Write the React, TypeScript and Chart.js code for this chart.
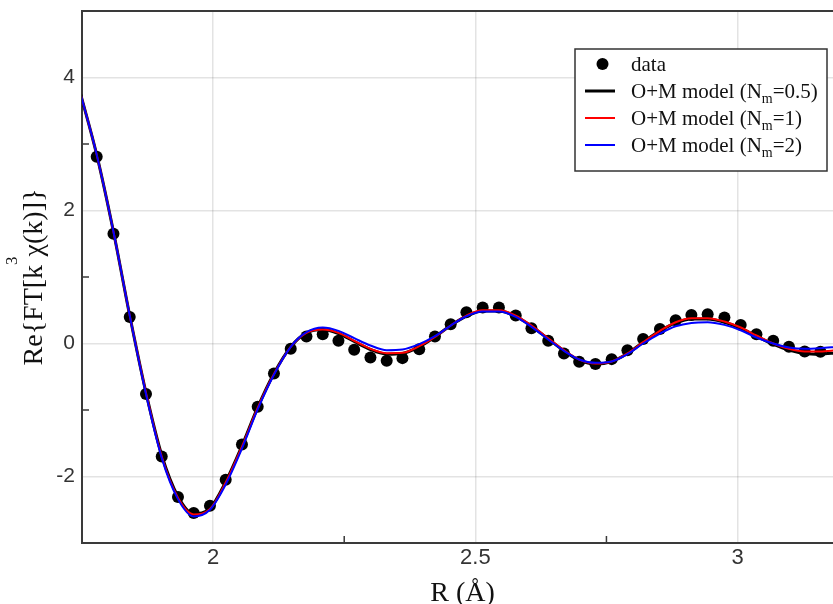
import React, { useEffect, useRef } from "react";
import { Chart, registerables } from "chart.js";

Chart.register(...registerables);

// ---- data ----
const R_VALUES = [1.747, 1.778, 1.810, 1.841, 1.872, 1.902, 1.933, 1.963, 1.994, 2.024, 2.055, 2.085, 2.116, 2.148, 2.178, 2.209, 2.239, 2.269, 2.300, 2.331, 2.361, 2.393, 2.423, 2.453, 2.483, 2.514, 2.545, 2.577, 2.607, 2.639, 2.669, 2.698, 2.729, 2.760, 2.790, 2.820, 2.852, 2.882, 2.912, 2.943, 2.975, 3.006, 3.036, 3.068, 3.098, 3.128, 3.158, 3.189];

const DATA_VALUES = [null, 2.81, 1.65, 0.40, -0.76, -1.70, -2.31, -2.55, -2.44, -2.05, -1.52, -0.95, -0.45, -0.08, 0.105, 0.14, 0.04, -0.095, -0.21, -0.26, -0.22, -0.085, 0.105, 0.29, 0.47, 0.54, 0.54, 0.42, 0.23, 0.04, -0.15, -0.275, -0.31, -0.235, -0.10, 0.066, 0.217, 0.35, 0.43, 0.44, 0.39, 0.28, 0.14, 0.04, -0.05, -0.12, -0.125, null];

const MODEL_NM05 = [3.76, 2.84, 1.68, 0.42, -0.74, -1.68, -2.30, -2.56, -2.48, -2.08, -1.54, -0.96, -0.45, -0.05, 0.16, 0.21, 0.15, 0.03, -0.09, -0.16, -0.15, -0.05, 0.10, 0.27, 0.41, 0.49, 0.49, 0.41, 0.26, 0.07, -0.11, -0.25, -0.31, -0.27, -0.15, 0.02, 0.19, 0.31, 0.37, 0.37, 0.32, 0.23, 0.11, -0.01, -0.10, -0.15, -0.16, -0.14];

const MODEL_NM1 = [3.76, 2.84, 1.68, 0.42, -0.74, -1.70, -2.32, -2.57, -2.49, -2.09, -1.55, -0.97, -0.46, -0.05, 0.16, 0.21, 0.16, 0.04, -0.08, -0.145, -0.14, -0.04, 0.10, 0.27, 0.42, 0.50, 0.50, 0.42, 0.27, 0.08, -0.10, -0.24, -0.30, -0.27, -0.15, 0.02, 0.19, 0.32, 0.38, 0.38, 0.33, 0.24, 0.12, 0.00, -0.08, -0.12, -0.12, -0.10];

const MODEL_NM2 = [3.76, 2.84, 1.68, 0.42, -0.76, -1.72, -2.34, -2.60, -2.50, -2.12, -1.58, -0.99, -0.47, -0.05, 0.17, 0.24, 0.19, 0.08, -0.03, -0.10, -0.09, -0.01, 0.11, 0.27, 0.41, 0.48, 0.48, 0.40, 0.25, 0.06, -0.11, -0.24, -0.29, -0.27, -0.16, 0.00, 0.15, 0.26, 0.31, 0.32, 0.28, 0.20, 0.09, 0.00, -0.06, -0.08, -0.07, -0.05];

const SERIES_LABELS = ["data", "O+M model (N_m=0.5)", "O+M model (N_m=1)", "O+M model (N_m=2)"];
const SERIES_COLORS = ["#000000", "#000000", "#ff0000", "#0000ff"];

const X_MAJOR_TICKS = [2, 2.5, 3];
const X_MINOR_TICKS = [2.25, 2.75];
const Y_MAJOR_TICKS = [-2, 0, 2, 4];
const Y_MINOR_TICKS = [-1, 1, 3];

const X_TITLE = "R (Å)";
const Y_TITLE_PARTS = ["Re{FT[k", "3", "χ(k)]}"];

const AXIS_COLOR = "#3a3a3a";
const SERIF = "'Liberation Serif', 'Times New Roman', serif";
const SANS = "'Liberation Sans', Arial, sans-serif";

function toPoints(values: (number | null)[]) {
  const pts: { x: number; y: number }[] = [];
  values.forEach((v, i) => {
    if (v !== null) pts.push({ x: R_VALUES[i], y: v });
  });
  return pts;
}

function drawSubText(ctx: CanvasRenderingContext2D, label: string, x: number, y: number, size: number) {
  // "_m" => subscript m
  const idx = label.indexOf("_");
  ctx.textBaseline = "alphabetic";
  ctx.textAlign = "left";
  if (idx < 0) {
    ctx.font = `${size}px ${SERIF}`;
    ctx.fillText(label, x, y);
    return;
  }
  const before = label.slice(0, idx);
  const sub = label.slice(idx + 1, idx + 2);
  const after = label.slice(idx + 2);
  ctx.font = `${size}px ${SERIF}`;
  ctx.fillText(before, x, y);
  let cx = x + ctx.measureText(before).width;
  ctx.font = `${Math.round(size * 0.68)}px ${SERIF}`;
  ctx.fillText(sub, cx, y + 5);
  cx += ctx.measureText(sub).width;
  ctx.font = `${size}px ${SERIF}`;
  ctx.fillText(after, cx, y);
}

const decorPlugin = {
  id: "decor",
  afterDraw(chart: any) {
    const { ctx, chartArea, scales } = chart;
    const { left, top, right, bottom } = chartArea;
    const xs = scales.x;
    const ys = scales.y;
    ctx.save();

    // top frame line
    ctx.strokeStyle = AXIS_COLOR;
    ctx.lineWidth = 2;
    ctx.beginPath();
    ctx.moveTo(left, top);
    ctx.lineTo(right, top);
    ctx.stroke();

    // minor inward ticks
    ctx.lineWidth = 1.5;
    ctx.beginPath();
    X_MINOR_TICKS.forEach((v) => {
      const px = xs.getPixelForValue(v);
      ctx.moveTo(px, bottom);
      ctx.lineTo(px, bottom - 7);
    });
    Y_MINOR_TICKS.forEach((v) => {
      const py = ys.getPixelForValue(v);
      ctx.moveTo(left, py);
      ctx.lineTo(left + 7, py);
    });
    ctx.stroke();

    // x title
    ctx.fillStyle = "#111";
    ctx.font = `28px ${SERIF}`;
    ctx.textAlign = "center";
    ctx.textBaseline = "alphabetic";
    ctx.fillText(X_TITLE, (left + right) / 2 + 5, 601);

    // y title (rotated, with superscript)
    ctx.save();
    const cy = (top + bottom) / 2;
    ctx.translate(42, cy);
    ctx.rotate(-Math.PI / 2);
    const mainFont = `28px ${SERIF}`;
    const supFont = `17px ${SERIF}`;
    ctx.font = mainFont;
    const w0 = ctx.measureText(Y_TITLE_PARTS[0]).width;
    const w2 = ctx.measureText(Y_TITLE_PARTS[2]).width;
    ctx.font = supFont;
    const w1 = ctx.measureText(Y_TITLE_PARTS[1]).width;
    const total = w0 + w1 + w2;
    let sx = -total / 2;
    ctx.textAlign = "left";
    ctx.font = mainFont;
    ctx.fillText(Y_TITLE_PARTS[0], sx, 0);
    sx += w0;
    ctx.font = supFont;
    ctx.fillText(Y_TITLE_PARTS[1], sx, -25);
    sx += w1;
    ctx.font = mainFont;
    ctx.fillText(Y_TITLE_PARTS[2], sx, 0);
    ctx.restore();

    // legend
    const bx = 575, by = 49, bw = 252, bh = 122;
    ctx.fillStyle = "#ffffff";
    ctx.fillRect(bx, by, bw, bh);
    ctx.strokeStyle = "#333";
    ctx.lineWidth = 1.5;
    ctx.strokeRect(bx, by, bw, bh);
    const rowY = [64, 91, 118, 145];
    SERIES_LABELS.forEach((lab, i) => {
      const ry = rowY[i];
      if (i === 0) {
        ctx.fillStyle = SERIES_COLORS[0];
        ctx.beginPath();
        ctx.arc(602.5, ry, 6, 0, Math.PI * 2);
        ctx.fill();
      } else {
        ctx.strokeStyle = SERIES_COLORS[i];
        ctx.lineWidth = i === 1 ? 3 : 2;
        ctx.beginPath();
        ctx.moveTo(585, ry);
        ctx.lineTo(615, ry);
        ctx.stroke();
      }
      ctx.fillStyle = "#111";
      drawSubText(ctx, lab, 631, ry + 6.5, 21);
    });

    ctx.restore();
  },
};

function zeroPadding(scale: any) {
  scale.paddingTop = 0;
  scale.paddingBottom = 0;
  scale.paddingLeft = 0;
  scale.paddingRight = 0;
}

export default function App() {
  const canvasRef = useRef<HTMLCanvasElement | null>(null);

  useEffect(() => {
    const canvas = canvasRef.current;
    if (!canvas) return;
    const lineDs = (label: string, values: number[], color: string, width: number, order: number) => ({
      label,
      data: toPoints(values),
      borderColor: color,
      backgroundColor: color,
      borderWidth: width,
      pointRadius: 0,
      showLine: true,
      cubicInterpolationMode: "monotone" as const,
      fill: false,
      order,
    });
    const chart = new Chart(canvas, {
      type: "line",
      data: {
        datasets: [
          {
            label: SERIES_LABELS[0],
            data: toPoints(DATA_VALUES),
            showLine: false,
            pointRadius: 6,
            pointBackgroundColor: "#000",
            pointBorderColor: "#000",
            pointBorderWidth: 0,
            borderColor: "#000",
            backgroundColor: "#000",
            order: 4,
          },
          lineDs(SERIES_LABELS[1], MODEL_NM05, SERIES_COLORS[1], 3, 3),
          lineDs(SERIES_LABELS[2], MODEL_NM1, SERIES_COLORS[2], 2, 2),
          lineDs(SERIES_LABELS[3], MODEL_NM2, SERIES_COLORS[3], 2, 1),
        ],
      },
      options: {
        animation: false,
        responsive: false,
        devicePixelRatio: 1,
        layout: { autoPadding: false, padding: { top: 11, right: 0, bottom: 0, left: 0 } },
        plugins: {
          legend: { display: false },
          tooltip: { enabled: false },
          title: { display: false },
        },
        scales: {
          x: {
            type: "linear",
            min: 1.75,
            max: 3.182,
            afterBuildTicks: (scale: any) => {
              scale.ticks = X_MAJOR_TICKS.map((v) => ({ value: v }));
            },
            afterFit: (scale: any) => {
              scale.height = 61;
              zeroPadding(scale);
            },
            ticks: {
              autoSkip: false,
              maxRotation: 0,
              padding: 2,
              color: "#333",
              font: { family: SANS, size: 22 },
              callback: (v: any) => String(v),
            },
            grid: { color: "rgba(0,0,0,0.11)", lineWidth: 1.5, drawTicks: false },
            border: { display: true, color: AXIS_COLOR, width: 2 },
          },
          y: {
            type: "linear",
            min: -3,
            max: 5,
            afterBuildTicks: (scale: any) => {
              scale.ticks = Y_MAJOR_TICKS.map((v) => ({ value: v }));
            },
            afterFit: (scale: any) => {
              scale.width = 82;
              zeroPadding(scale);
            },
            ticks: {
              padding: 7,
              color: "#333",
              font: { family: SANS, size: 21 },
              callback: (v: any) => String(v),
            },
            grid: { color: "rgba(0,0,0,0.11)", lineWidth: 1.5, drawTicks: false },
            border: { display: true, color: AXIS_COLOR, width: 2 },
          },
        },
      },
      plugins: [decorPlugin],
    } as any);
    return () => chart.destroy();
  }, []);

  return (
    <div style={{ position: "fixed", left: 0, top: 0, width: 833, height: 604, background: "#fff" }}>
      <canvas ref={canvasRef} width={833} height={604} style={{ display: "block", width: 833, height: 604 }} />
    </div>
  );
}
